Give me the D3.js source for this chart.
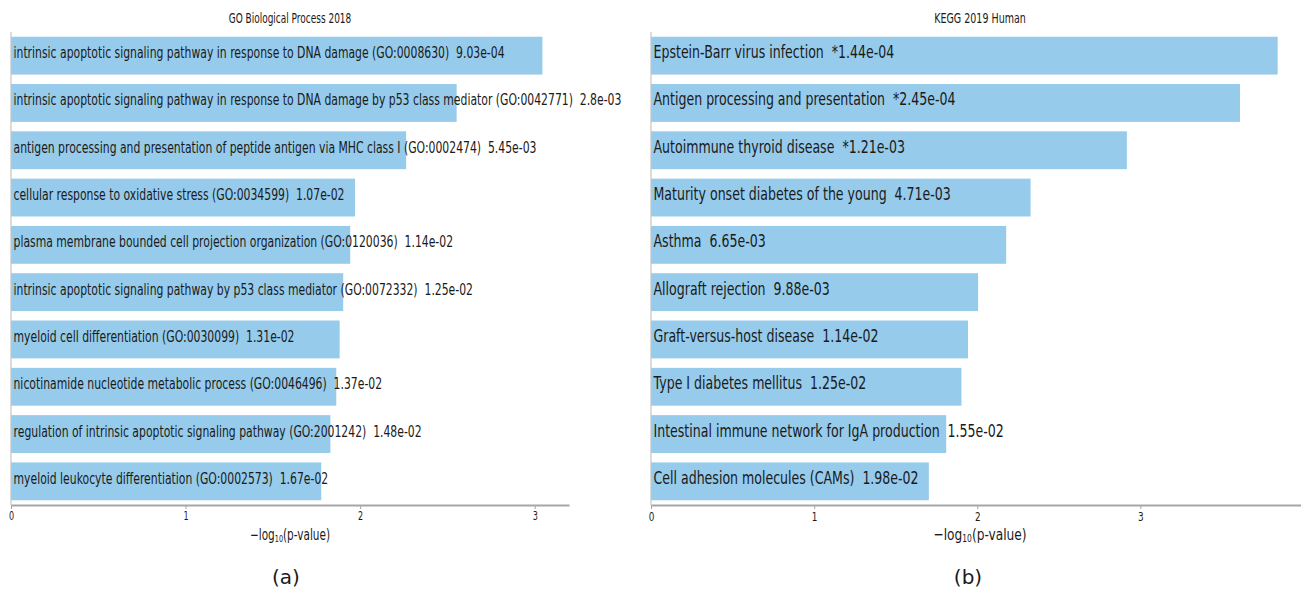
<!DOCTYPE html>
<html>
<head>
<meta charset="utf-8">
<script src="https://cdn.jsdelivr.net/npm/d3@7"></script>
<style>
  html, body { margin: 0; padding: 0; background: #fff; }
  svg text { font-family: "DejaVu Sans", sans-serif; fill: #1a1a1a; white-space: pre; }
</style>
</head>
<body>
<svg id="chart" width="1301" height="590"></svg>
<script>
// GO Biological Process 2018 enrichment
const goTerms = [
  "intrinsic apoptotic signaling pathway in response to DNA damage (GO:0008630)",
  "intrinsic apoptotic signaling pathway in response to DNA damage by p53 class mediator (GO:0042771)",
  "antigen processing and presentation of peptide antigen via MHC class I (GO:0002474)",
  "cellular response to oxidative stress (GO:0034599)",
  "plasma membrane bounded cell projection organization (GO:0120036)",
  "intrinsic apoptotic signaling pathway by p53 class mediator (GO:0072332)",
  "myeloid cell differentiation (GO:0030099)",
  "nicotinamide nucleotide metabolic process (GO:0046496)",
  "regulation of intrinsic apoptotic signaling pathway (GO:2001242)",
  "myeloid leukocyte differentiation (GO:0002573)"
];
const goPValues = ["9.03e-04", "2.8e-03", "5.45e-03", "1.07e-02", "1.14e-02",
                   "1.25e-02", "1.31e-02", "1.37e-02", "1.48e-02", "1.67e-02"];
const goStar = [false, false, false, false, false, false, false, false, false, false];

// KEGG 2019 Human enrichment
const keggTerms = [
  "Epstein-Barr virus infection",
  "Antigen processing and presentation",
  "Autoimmune thyroid disease",
  "Maturity onset diabetes of the young",
  "Asthma",
  "Allograft rejection",
  "Graft-versus-host disease",
  "Type I diabetes mellitus",
  "Intestinal immune network for IgA production",
  "Cell adhesion molecules (CAMs)"
];
const keggPValues = ["1.44e-04", "2.45e-04", "1.21e-03", "4.71e-03", "6.65e-03",
                     "9.88e-03", "1.14e-02", "1.25e-02", "1.55e-02", "1.98e-02"];
const keggStar = [true, true, true, false, false, false, false, false, false, false];

const xTicks = [0, 1, 2, 3];

const svg = d3.select("#chart");
const barColor = "#96cbeb";

function panel(opts) {
  const { title, terms, pvals, stars, left, right, top, bottom, caption, captionX, sx, fs } = opts;
  const rows = terms.map((t, i) => ({
    term: t,
    p: pvals[i],
    star: stars[i],
    v: -Math.log10(parseFloat(pvals[i]))
  }));
  const maxV = d3.max(rows, d => d.v);
  const x = d3.scaleLinear().domain([0, maxV * 1.05]).range([left, right]);
  const y = d3.scaleBand().domain(d3.range(rows.length)).range([top, bottom])
    .paddingInner(0.2).paddingOuter(0.1);

  const g = svg.append("g");

  g.selectAll("rect.bar").data(rows).join("rect")
    .attr("class", "bar")
    .attr("x", x(0))
    .attr("y", (d, i) => y(i))
    .attr("width", d => x(d.v) - x(0))
    .attr("height", y.bandwidth())
    .attr("fill", barColor);

  g.selectAll("text.lbl").data(rows).join("text")
    .attr("class", "lbl")
    .attr("transform", (d, i) => `translate(${x(0) + 2.5},${y(i) + y.bandwidth() / 2 + 2.5}) scale(${sx},1)`)
    .attr("font-size", fs)
    .text(d => `${d.term}  ${d.star ? "*" : ""}${d.p}`);

  // left spine
  g.append("line")
    .attr("x1", x(0)).attr("x2", x(0))
    .attr("y1", top).attr("y2", bottom)
    .attr("stroke", "#c4c4c4").attr("stroke-width", 1.2);

  // bottom axis
  const axis = g.append("g")
    .attr("transform", `translate(0,${bottom})`)
    .call(d3.axisBottom(x).tickValues(xTicks).tickFormat(d3.format("d"))
      .tickSize(4).tickSizeOuter(0));
  axis.select(".domain").attr("stroke", "#a6a6a6").attr("stroke-width", 1.8);
  axis.selectAll(".tick line").attr("stroke", "#a6a6a6");
  axis.selectAll(".tick text")
    .attr("font-size", opts.tickFs)
    .attr("font-family", "DejaVu Sans, sans-serif")
    .attr("fill", "#1a1a1a")
    .attr("transform", `scale(${sx},1)`);

  const cx = (left + right) / 2;
  g.append("text")
    .attr("transform", `translate(${cx},23) scale(${opts.titleSx},1)`)
    .attr("text-anchor", "middle")
    .attr("font-size", 14)
    .text(title);

  const xl = g.append("text")
    .attr("transform", `translate(${cx},540) scale(${sx},1)`)
    .attr("text-anchor", "middle")
    .attr("font-size", opts.xlFs);
  xl.append("tspan").text("\u2212log");
  xl.append("tspan").attr("font-size", opts.xlFs * 0.62).attr("dy", 2).text("10");
  xl.append("tspan").attr("dy", -2).text("(p-value)");

  svg.append("text")
    .attr("x", captionX).attr("y", 584)
    .attr("text-anchor", "middle")
    .attr("font-family", "Open Sans, Liberation Sans, sans-serif")
    .attr("font-size", 20)
    .attr("fill", "#222")
    .text(caption);
}

panel({
  title: "GO Biological Process 2018",
  terms: goTerms, pvals: goPValues, stars: goStar,
  left: 11, right: 569, top: 32, bottom: 505,
  caption: "(a)", captionX: 286,
  sx: 0.70, fs: 15.5, tickFs: 11.5, xlFs: 15, titleSx: 0.64
});

panel({
  title: "KEGG 2019 Human",
  terms: keggTerms, pvals: keggPValues, stars: keggStar,
  left: 651, right: 1309, top: 32, bottom: 505,
  caption: "(b)", captionX: 968,
  sx: 0.74, fs: 17, tickFs: 12, xlFs: 16.5, titleSx: 0.68
});
</script>
</body>
</html>
